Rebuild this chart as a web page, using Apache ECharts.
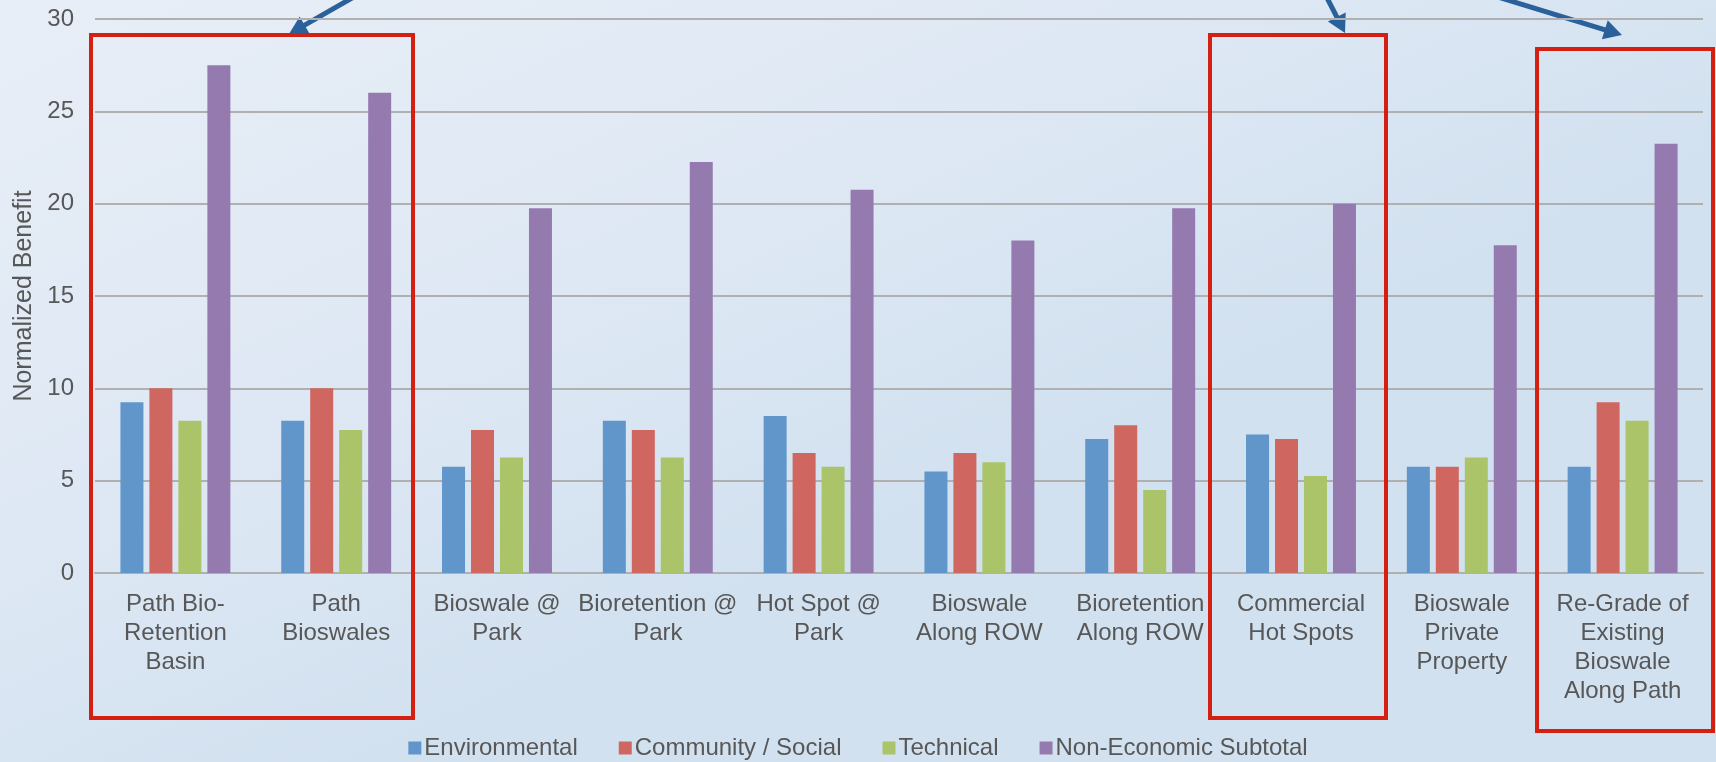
<!DOCTYPE html>
<html>
<head>
<meta charset="utf-8">
<script src="https://cdn.jsdelivr.net/npm/echarts@6/dist/echarts.min.js"></script>
<style>
html, body { margin: 0; padding: 0; }
#chart { width: 1716px; height: 762px; }
</style>
</head>
<body>
<div id="chart"></div>
<script>
// categories (line breaks as on the slide)
var categories = [
	'Path Bio-\nRetention\nBasin',
	'Path\nBioswales',
	'Bioswale @\nPark',
	'Bioretention @\nPark',
	'Hot Spot @\nPark',
	'Bioswale\nAlong ROW',
	'Bioretention\nAlong ROW',
	'Commercial\nHot Spots',
	'Bioswale\nPrivate\nProperty',
	'Re-Grade of\nExisting\nBioswale\nAlong Path'
];

var environmental = [9.25, 8.25, 5.75, 8.25, 8.5, 5.5, 7.25, 7.5, 5.75, 5.75];
var community = [10, 10, 7.75, 7.75, 6.5, 6.5, 8, 7.25, 5.75, 9.25];
var technical = [8.25, 7.75, 6.25, 6.25, 5.75, 6, 4.5, 5.25, 6.25, 8.25];
var subtotal = [27.5, 26, 19.75, 22.25, 20.75, 18, 19.75, 20, 17.75, 23.25];

var seriesNames = ['Environmental', 'Community / Social', 'Technical', 'Non-Economic Subtotal'];
var colors = ['#6096C9', '#CF6760', '#ABC46A', '#957AB0'];

var textColor = '#575757';
var font = 'Liberation Sans, Arial, sans-serif';

var chart = echarts.init(document.getElementById('chart'));

// 箭头 (annotation arrows)
function arrow(x1, y1, x2, y2) {
	var dx = x2 - x1, dy = y2 - y1;
	var len = Math.sqrt(dx * dx + dy * dy);
	var ux = dx / len, uy = dy / len;
	var hl = 18, hw = 10;
	var bx = x2 - ux * hl, by = y2 - uy * hl;
	return [{
		type : 'line',
		shape : { x1 : x1, y1 : y1, x2 : bx + ux * 2, y2 : by + uy * 2 },
		style : { stroke : '#2B619A', lineWidth : 5 }
	}, {
		type : 'polygon',
		shape : { points : [[x2, y2], [bx - uy * hw, by + ux * hw], [bx + uy * hw, by - ux * hw]] },
		style : { fill : '#2B619A' }
	}];
}

function box(x1, y1, x2, y2) {
	return {
		type : 'rect',
		shape : { x : x1, y : y1, width : x2 - x1, height : y2 - y1 },
		style : { fill : 'none', stroke : '#D42012', lineWidth : 4 },
		z : 10
	};
}

var graphics = [
	box(91, 35, 413, 718),
	box(1210, 35, 1386, 718),
	box(1537, 49, 1713, 731)
].concat(arrow(366, -10, 289, 34), arrow(1323, -10, 1345, 33), arrow(1475, -10, 1622, 35));

var series = [];
var data = [environmental, community, technical, subtotal];
for (var i = 0; i < data.length; i++) {
	series.push({
		name : seriesNames[i],
		type : 'bar',
		data : data[i],
		barWidth : 23,
		barGap : '26%',
		itemStyle : { color : colors[i] }
	});
}

var option = {
	backgroundColor : {
		type : 'linear', x : 0, y : 0, x2 : 0.2, y2 : 1,
		colorStops : [
			{ offset : 0, color : '#E8EEF7' },
			{ offset : 0.6, color : '#DEE8F4' },
			{ offset : 1, color : '#D2E1F0' }
		]
	},
	textStyle : { fontFamily : font },
	grid : { left : 95, right : 13, top : 19, bottom : 189 },
	legend : {
		data : seriesNames,
		bottom : -3,
		left : 'center',
		icon : 'rect',
		itemWidth : 13,
		itemHeight : 13,
		itemGap : 41,
		textStyle : { color : textColor, fontSize : 24, fontFamily : font, padding : [0, 0, 0, -2] }
	},
	xAxis : {
		type : 'category',
		data : categories,
		axisLine : { lineStyle : { color : '#B0B0B0', width : 2 } },
		axisTick : { show : false },
		axisLabel : {
			color : textColor,
			fontSize : 24,
			lineHeight : 29,
			margin : 17,
			interval : 0,
			align : 'center'
		}
	},
	yAxis : {
		type : 'value',
		min : 0,
		max : 30,
		interval : 5,
		name : 'Normalized Benefit',
		nameLocation : 'middle',
		nameGap : 58,
		nameTextStyle : { color : textColor, fontSize : 25 },
		axisLine : { show : false },
		axisTick : { show : false },
		axisLabel : { color : textColor, fontSize : 24, margin : 21 },
		splitLine : { lineStyle : { color : '#B0B0B0', width : 2 } }
	},
	graphic : graphics,
	series : series
};

chart.setOption(option);
</script>
</body>
</html>
